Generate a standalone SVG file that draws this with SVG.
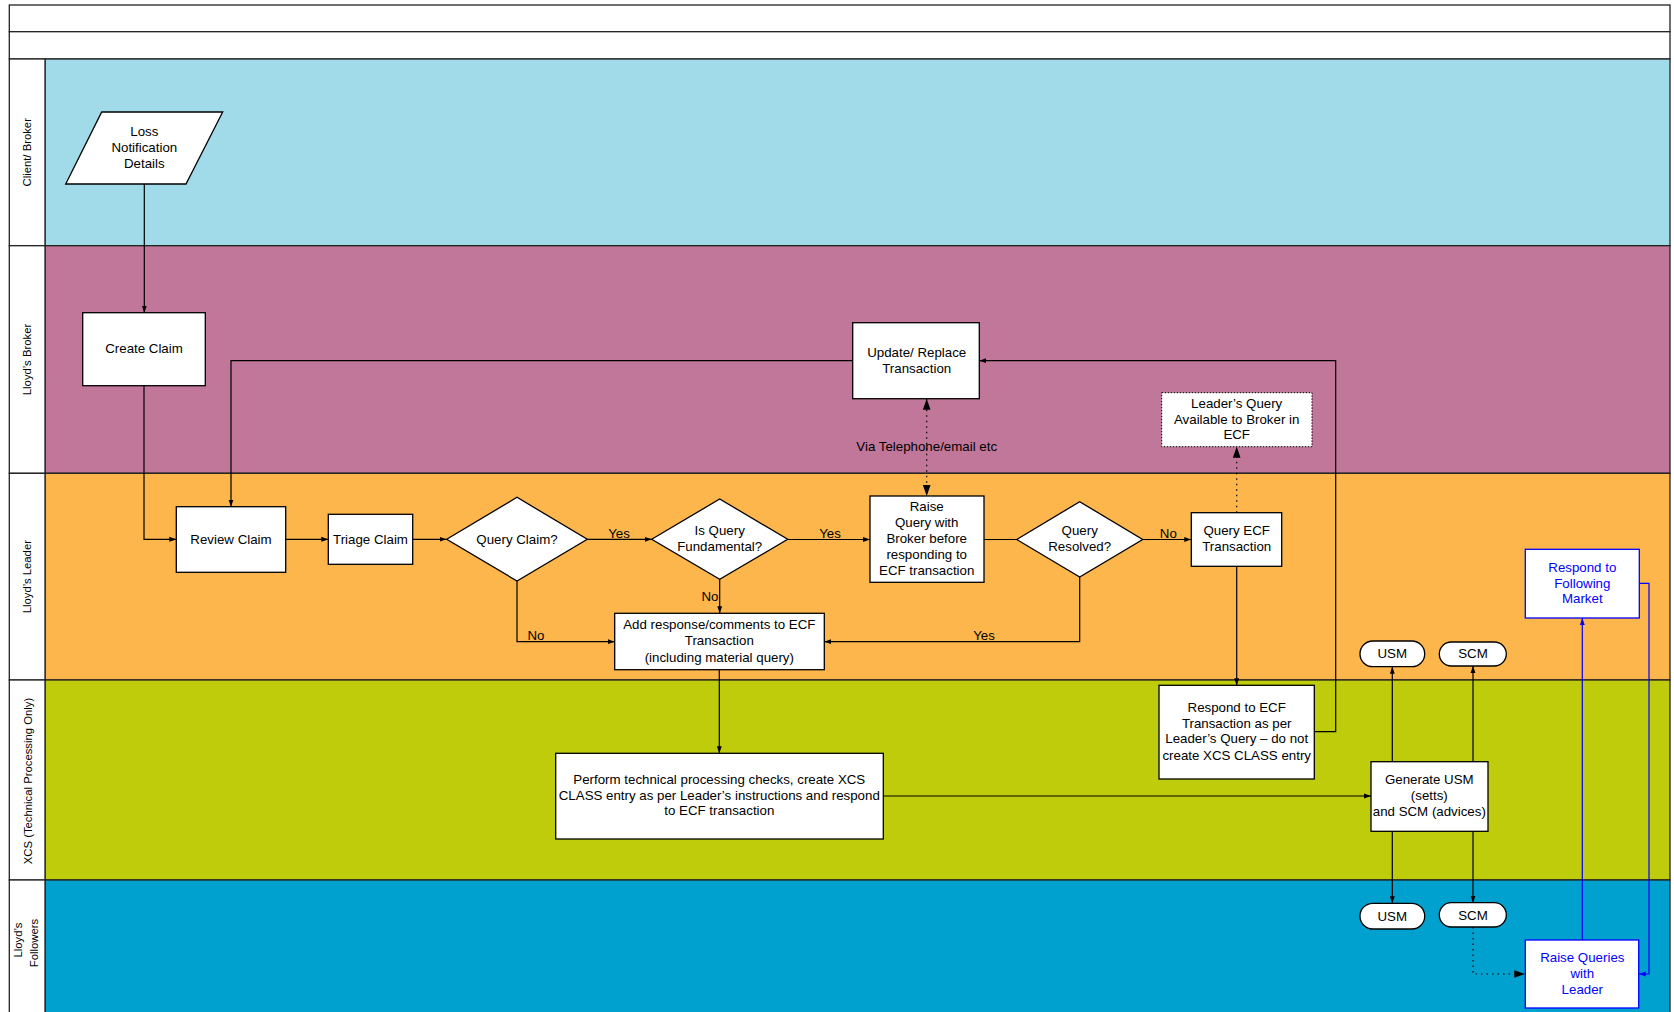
<svg xmlns="http://www.w3.org/2000/svg" width="1674" height="1012" viewBox="0 0 1674 1012">
<style>
text{font-family:"Liberation Sans",Arial,sans-serif;font-size:13.3px;fill:#000;text-anchor:middle}
.lbl{font-size:11.3px}
.box{fill:#fff;stroke:#000;stroke-width:1.3}
.bbox{fill:#fff;stroke:#0000ff;stroke-width:1.3}
.btxt{fill:#0000ff}
.lane{stroke:#222;stroke-width:1.3}
.c{fill:none;stroke:#000;stroke-width:1.2}
.cb{fill:none;stroke:#0000ff;stroke-width:1.2}
.dot{fill:none;stroke:#000;stroke-width:1.2;stroke-dasharray:1.5 4}
</style>
<defs>
<marker id="a" viewBox="0 0 10 10" refX="10" refY="5" markerWidth="7" markerHeight="7" markerUnits="userSpaceOnUse" orient="auto"><path d="M0,1.5L10,5L0,8.5z" fill="#000"/></marker>
<marker id="ab" viewBox="0 0 10 10" refX="10" refY="5" markerWidth="7" markerHeight="7" markerUnits="userSpaceOnUse" orient="auto"><path d="M0,1.5L10,5L0,8.5z" fill="#0000ff"/></marker>
<marker id="ad" viewBox="0 0 10 10" refX="10" refY="5" markerWidth="11" markerHeight="11" markerUnits="userSpaceOnUse" orient="auto"><path d="M0,1.5L10,5L0,8.5z" fill="#000"/></marker>
<marker id="ads" viewBox="0 0 10 10" refX="0" refY="5" markerWidth="11" markerHeight="11" markerUnits="userSpaceOnUse" orient="auto"><path d="M10,1.5L0,5L10,8.5z" fill="#000"/></marker>
</defs>
<rect width="1674" height="1012" fill="#fff"/>
<g id="lanes">
<rect x="9.3" y="5" width="1660.7" height="26.7" fill="#fff" class="lane"/>
<rect x="9.3" y="31.7" width="1660.7" height="27.3" fill="#fff" class="lane"/>
<rect x="45" y="59" width="1625" height="186.7" fill="#A1DBE9" class="lane"/>
<rect x="45" y="245.7" width="1625" height="227.6" fill="#C17799" class="lane"/>
<rect x="45" y="473.3" width="1625" height="206.7" fill="#FDB64C" class="lane"/>
<rect x="45" y="680" width="1625" height="200" fill="#BECC0B" class="lane"/>
<rect x="45" y="880" width="1625" height="140" fill="#00A1CE" class="lane"/>
<rect x="9.3" y="59" width="35.7" height="186.7" fill="#fff" class="lane"/>
<rect x="9.3" y="245.7" width="35.7" height="227.6" fill="#fff" class="lane"/>
<rect x="9.3" y="473.3" width="35.7" height="206.7" fill="#fff" class="lane"/>
<rect x="9.3" y="680" width="35.7" height="200" fill="#fff" class="lane"/>
<rect x="9.3" y="880" width="35.7" height="140" fill="#fff" class="lane"/>
<text class="lbl" transform="translate(31.3,152.3) rotate(-90)">Client/ Broker</text>
<text class="lbl" transform="translate(31.3,359.5) rotate(-90)">Lloyd’s Broker</text>
<text class="lbl" transform="translate(31.3,576.7) rotate(-90)">Lloyd’s Leader</text>
<text class="lbl" transform="translate(32.3,781) rotate(-90)">XCS (Technical Processing Only)</text>
<text class="lbl" transform="translate(22,940) rotate(-90)">Lloyd’s</text>
<text class="lbl" transform="translate(37.5,943) rotate(-90)">Followers</text>
</g>
<g id="connectors">
<path class="c" d="M144.3,184V312.7" marker-end="url(#a)"/>
<path class="c" d="M144,385.7V539.3H176.3" marker-end="url(#a)"/>
<path class="c" d="M285.7,539.3H328.3" marker-end="url(#a)"/>
<path class="c" d="M412.7,539.3H446.5" marker-end="url(#a)"/>
<path class="c" d="M587.3,539.3H651.7" marker-end="url(#a)"/>
<path class="c" d="M787.7,539.5H870" marker-end="url(#a)"/>
<path class="c" d="M984,539.5H1016.7"/>
<path class="c" d="M1142.7,539.5H1191.3" marker-end="url(#a)"/>
<path class="c" d="M517,581V641.7H614.7" marker-end="url(#a)"/>
<path class="c" d="M719.7,579.3V613.3" marker-end="url(#a)"/>
<path class="c" d="M1079.7,577V641.7H824.3" marker-end="url(#a)"/>
<path class="c" d="M719.3,669.7V753.3" marker-end="url(#a)"/>
<path class="c" d="M883.3,796H1371" marker-end="url(#a)"/>
<path class="c" d="M1236.7,566.3V685.3" marker-end="url(#a)"/>
<path class="c" d="M1314.3,731.7H1335.7V360.7H979.3" marker-end="url(#a)"/>
<path class="c" d="M852.7,360.7H231V506.7" marker-end="url(#a)"/>
<path class="dot" d="M926.7,398.7V496" marker-start="url(#ads)" marker-end="url(#ad)"/>
<path class="dot" d="M1236.7,512.7V446.7" marker-end="url(#ad)"/>
<path class="c" d="M1392.3,761.7V666.7" marker-end="url(#a)"/>
<path class="c" d="M1473,761.7V666" marker-end="url(#a)"/>
<path class="c" d="M1392.3,831.3V903.3" marker-end="url(#a)"/>
<path class="c" d="M1473,831.3V902.7" marker-end="url(#a)"/>
<path class="dot" d="M1473,927V974H1525.3" marker-end="url(#ad)"/>
<path class="cb" d="M1582.3,940V618" marker-end="url(#ab)"/>
<path class="cb" d="M1639.3,583.3H1649V974H1638.7" marker-end="url(#ab)"/>
<text x="619" y="537.5">Yes</text>
<text x="830" y="537.5">Yes</text>
<text x="710" y="600.5">No</text>
<text x="536" y="639.5">No</text>
<text x="984" y="639.5">Yes</text>
<text x="1168.3" y="537.5">No</text>
<text x="926.7" y="451">Via Telephone/email etc</text>
</g>
<g id="loss">
<polygon class="box" points="101.7,112 222.7,112 186,184 65.7,184"/>
<text x="144.3" y="136">Loss</text>
<text x="144.3" y="151.7">Notification</text>
<text x="144.3" y="167.5">Details</text>
</g>
<g id="create"><rect class="box" x="82.7" y="312.7" width="122.6" height="73"/><text x="144" y="352.5">Create Claim</text></g>
<g id="update"><rect class="box" x="852.7" y="322.7" width="126.6" height="76"/><text x="916.7" y="356.5">Update/ Replace</text><text x="916.7" y="372.5">Transaction</text></g>
<g id="leaderquery"><rect x="1161.7" y="392.7" width="150.3" height="54" fill="#fff" stroke="#000" stroke-width="1" stroke-dasharray="1.5 1.5"/><text x="1236.7" y="407.5">Leader’s Query</text><text x="1236.7" y="423.5">Available to Broker in</text><text x="1236.7" y="439">ECF</text></g>
<g id="review"><rect class="box" x="176.3" y="506.7" width="109.4" height="65.6"/><text x="231" y="543.5">Review Claim</text></g>
<g id="triage"><rect class="box" x="328.3" y="514.3" width="84.4" height="50"/><text x="370.5" y="543.5">Triage Claim</text></g>
<g id="queryclaim"><polygon class="box" points="446.7,539.3 517,497.3 587.3,539.3 517,581"/><text x="517" y="543.5">Query Claim?</text></g>
<g id="fundamental"><polygon class="box" points="651.7,539.3 719.7,499 787.7,539.3 719.7,579.3"/><text x="719.7" y="535">Is Query</text><text x="719.7" y="551">Fundamental?</text></g>
<g id="raise"><rect class="box" x="870" y="496" width="114" height="86.3"/><text x="926.7" y="511">Raise</text><text x="926.7" y="527">Query with</text><text x="926.7" y="542.7">Broker before</text><text x="926.7" y="558.5">responding to</text><text x="926.7" y="574.5">ECF transaction</text></g>
<g id="resolved"><polygon class="box" points="1016.7,539.5 1079.7,501.7 1142.7,539.5 1079.7,577"/><text x="1079.7" y="535">Query</text><text x="1079.7" y="551">Resolved?</text></g>
<g id="queryecf"><rect class="box" x="1191.3" y="512.7" width="90.4" height="53.6"/><text x="1236.7" y="535">Query ECF</text><text x="1236.7" y="550.5">Transaction</text></g>
<g id="respondfm"><rect class="bbox" x="1525.3" y="549.3" width="114" height="68.7"/><text class="btxt" x="1582.3" y="571.5">Respond to</text><text class="btxt" x="1582.3" y="587.5">Following</text><text class="btxt" x="1582.3" y="602.5">Market</text></g>
<g id="addresp"><rect class="box" x="614.7" y="613.3" width="209.6" height="56.4"/><text x="719.3" y="629.3">Add response/comments to ECF</text><text x="719.3" y="645.3">Transaction</text><text x="719.3" y="661.5">(including material query)</text></g>
<g id="usm1"><rect class="box" x="1360" y="641" width="64.7" height="25.7" rx="12.8"/><text x="1392.3" y="658">USM</text></g>
<g id="scm1"><rect class="box" x="1439.3" y="642" width="67" height="24" rx="12"/><text x="1473" y="658">SCM</text></g>
<g id="respondecf"><rect class="box" x="1159" y="685.3" width="155.3" height="93.7"/><text x="1236.7" y="711.5">Respond to ECF</text><text x="1236.7" y="727.5">Transaction as per</text><text x="1236.7" y="743.3">Leader’s Query – do not</text><text x="1236.7" y="760">create XCS CLASS entry</text></g>
<g id="perform"><rect class="box" x="555.7" y="753.3" width="327.6" height="85.7"/><text x="719.3" y="783.5">Perform technical processing checks, create XCS</text><text x="719.3" y="799.5">CLASS entry as per Leader’s instructions and respond</text><text x="719.3" y="815.2">to ECF transaction</text></g>
<g id="generate"><rect class="box" x="1371" y="761.7" width="117" height="69.6"/><text x="1429.3" y="783.5">Generate USM</text><text x="1429.3" y="799.5">(setts)</text><text x="1429.3" y="815.5">and SCM (advices)</text></g>
<g id="usm2"><rect class="box" x="1360" y="903.3" width="64.7" height="25.7" rx="12.8"/><text x="1392.3" y="920.5">USM</text></g>
<g id="scm2"><rect class="box" x="1439.3" y="902.7" width="67" height="24.3" rx="12"/><text x="1473" y="919.5">SCM</text></g>
<g id="raiseq"><rect class="bbox" x="1525.3" y="940" width="113.4" height="68"/><text class="btxt" x="1582.3" y="962">Raise Queries</text><text class="btxt" x="1582.3" y="977.5">with</text><text class="btxt" x="1582.3" y="993.5">Leader</text></g>
</svg>
